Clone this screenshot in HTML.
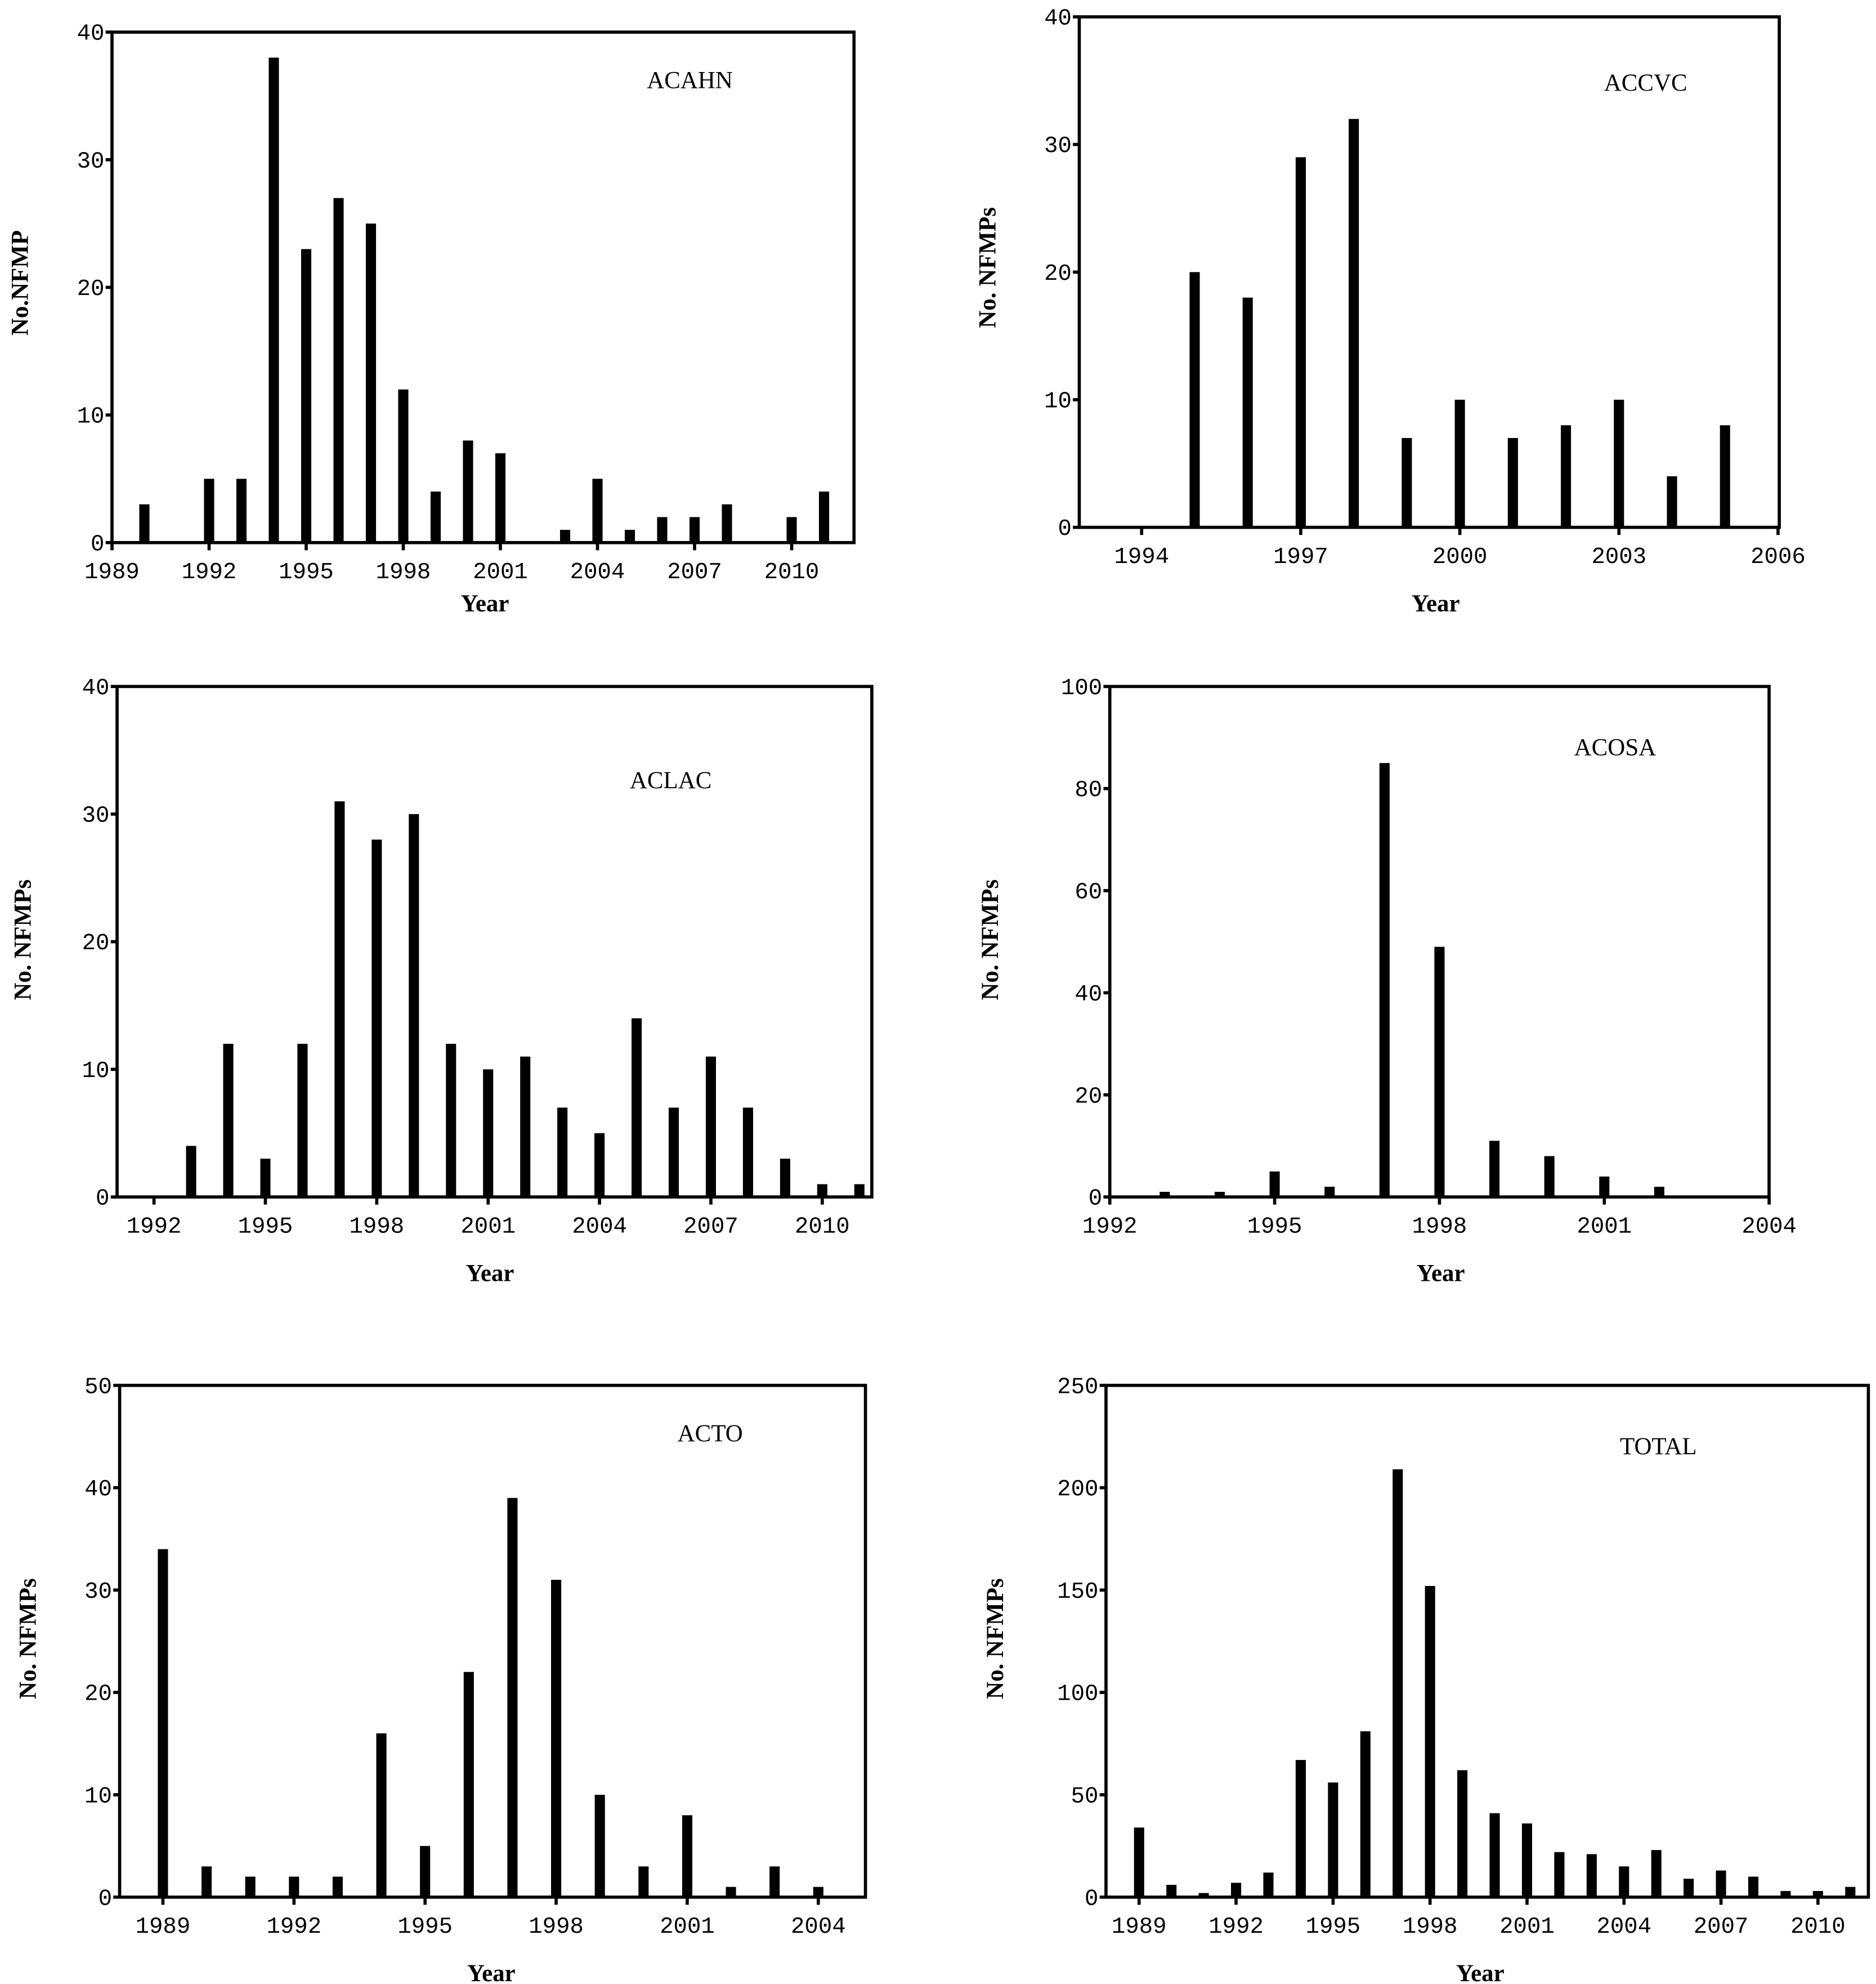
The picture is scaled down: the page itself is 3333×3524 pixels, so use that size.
<!DOCTYPE html>
<html><head><meta charset="utf-8"><style>
html,body{margin:0;padding:0;background:#fff}
svg{display:block}
.tk{font-family:"Liberation Mono",monospace;font-size:18px;fill:#000}
.ti{font-family:"Liberation Serif",serif;font-size:19px;fill:#000}
.al{font-family:"Liberation Serif",serif;font-size:19px;font-weight:bold;fill:#000}
</style></head><body>
<svg id="fig" width="3333" height="3524" viewBox="0 0 1474 1558" xmlns="http://www.w3.org/2000/svg"></svg>
<script>
const acahnYears=[1990,1992,1993,1994,1995,1996,1997,1998,1999,2000,2001,2003,2004,2005,2006,2007,2008,2010,2011];
const acahnValues=[3,5,5,38,23,27,25,12,4,8,7,1,5,1,2,2,3,2,4];
const accvcYears=[1995,1996,1997,1998,1999,2000,2001,2002,2003,2004,2005];
const accvcValues=[20,18,29,32,7,10,7,8,10,4,8];
const aclacYears=[1993,1994,1995,1996,1997,1998,1999,2000,2001,2002,2003,2004,2005,2006,2007,2008,2009,2010,2011];
const aclacValues=[4,12,3,12,31,28,30,12,10,11,7,5,14,7,11,7,3,1,1];
const acosaYears=[1993,1994,1995,1996,1997,1998,1999,2000,2001,2002];
const acosaValues=[1,1,5,2,85,49,11,8,4,2];
const actoYears=[1989,1990,1991,1992,1993,1994,1995,1996,1997,1998,1999,2000,2001,2002,2003,2004];
const actoValues=[34,3,2,2,2,16,5,22,39,31,10,3,8,1,3,1];
const totalYears=[1989,1990,1991,1992,1993,1994,1995,1996,1997,1998,1999,2000,2001,2002,2003,2004,2005,2006,2007,2008,2009,2010,2011];
const totalValues=[34,6,2,7,12,67,56,81,209,152,62,41,36,22,21,15,23,9,13,10,3,3,5];
const ticks1=[1989,1992,1995,1998,2001,2004,2007,2010];
const ticks2=[1994,1997,2000,2003,2006];
const ticks3=[1992,1995,1998,2001,2004,2007,2010];
const ticks4=[1992,1995,1998,2001,2004];
const ticks5=[1989,1992,1995,1998,2001,2004];
const yt40=[0,10,20,30,40],yt100=[0,20,40,60,80,100],yt50=[0,10,20,30,40,50],yt250=[0,50,100,150,200,250];

const NS="http://www.w3.org/2000/svg";
const fig=document.getElementById('fig');
function mk(tag,attrs,parent,txt){const e=document.createElementNS(NS,tag);for(const k in attrs)e.setAttribute(k,attrs[k]);if(txt!==undefined)e.textContent=txt;parent.appendChild(e);return e;}

function chart(c){
  const g=mk('g',{},fig);
  
  
  const xs=y=>c.x0+(y-c.y0)*c.step;
  const ys=v=>c.base-(v/c.ymax)*(c.base-c.top);
  c.years.forEach((yr,i)=>{
    const r=mk('rect',{x:xs(yr)-4,y:ys(c.vals[i]),width:8,height:c.base-ys(c.vals[i]),fill:'#000'},g);
    
    
  });
  const f=mk('rect',{x:c.left,y:c.top,width:c.right-c.left,height:c.base-c.top,fill:'none',stroke:'#000','stroke-width':2.5},g);
  
  
  c.yt.forEach(v=>{
    mk('line',{x1:c.left-5,x2:c.left,y1:ys(v),y2:ys(v),stroke:'#000','stroke-width':2.5},g);
    const t=mk('text',{x:c.left-6,y:ys(v)+6,'text-anchor':'end',class:'tk'},g,v);
    
    
  });
  c.xt.forEach(yr=>{
    mk('line',{x1:xs(yr),x2:xs(yr),y1:c.base,y2:c.base+6,stroke:'#000','stroke-width':2.5},g);
    const t=mk('text',{x:xs(yr),y:c.base+28,'text-anchor':'middle',class:'tk'},g,yr);
    
    
  });
  const ti=mk('text',{x:c.tx,y:c.ty,'text-anchor':'middle',class:'ti'},g,c.title);
  
  
  const xl=mk('text',{x:c.xlx,y:c.xly,'text-anchor':'middle',class:'al'},g,'Year');
  
  
  const yl=mk('text',{x:0,y:0,'text-anchor':'middle',class:'al',transform:'translate('+c.ylx+','+c.yly+') rotate(-90)'},g,c.ylab);
  
  
}
chart({name:'acahn',years:acahnYears,vals:acahnValues,left:88,right:671,top:25,base:426,x0:88,y0:1989,step:25.43,ymax:40,yt:yt40,xt:ticks1,title:'ACAHN',tx:542,ty:69,xlx:381,xly:480,ylx:22,yly:222,ylab:'No.NFMP'});
chart({name:'accvc',years:accvcYears,vals:accvcValues,left:848,right:1398,top:13,base:414,x0:897,y0:1994,step:41.67,ymax:40,yt:yt40,xt:ticks2,title:'ACCVC',tx:1293,ty:71,xlx:1128,xly:480,ylx:782,yly:210,ylab:'No. NFMPs'});
chart({name:'aclac',years:aclacYears,vals:aclacValues,left:92,right:685,top:539,base:940,x0:121,y0:1992,step:29.17,ymax:40,yt:yt40,xt:ticks3,title:'ACLAC',tx:527,ty:619,xlx:385,xly:1006,ylx:24,yly:738,ylab:'No. NFMPs'});
chart({name:'acosa',years:acosaYears,vals:acosaValues,left:872,right:1390,top:539,base:940,x0:872,y0:1992,step:43.17,ymax:100,yt:yt100,xt:ticks4,title:'ACOSA',tx:1269,ty:593,xlx:1132,xly:1006,ylx:784,yly:738,ylab:'No. NFMPs'});
chart({name:'acto',years:actoYears,vals:actoValues,left:94,right:680,top:1088,base:1490,x0:128,y0:1989,step:34.33,ymax:50,yt:yt50,xt:ticks5,title:'ACTO',tx:558,ty:1132,xlx:386,xly:1556,ylx:28,yly:1287,ylab:'No. NFMPs'});
chart({name:'total',years:totalYears,vals:totalValues,left:869,right:1468,top:1088,base:1490,x0:895,y0:1989,step:25.4,ymax:250,yt:yt250,xt:ticks1,title:'TOTAL',tx:1303,ty:1142,xlx:1163,xly:1556,ylx:788,yly:1287,ylab:'No. NFMPs'});
</script>
</body></html>
